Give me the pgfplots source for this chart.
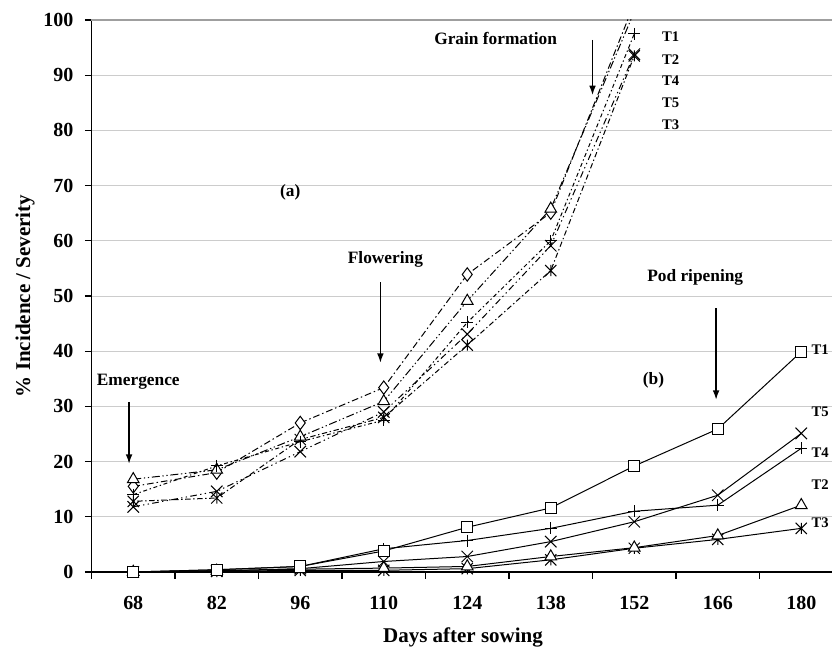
\documentclass[border=0pt]{standalone}
\usepackage{fontspec}
\setmainfont{Liberation Serif}
\usepackage{pgfplots}
\pgfplotsset{compat=1.18}
\usetikzlibrary{arrows.meta}

\pgfdeclareplotmark{exx}{%
 \pgfpathmoveto{\pgfqpoint{-\pgfplotmarksize}{-\pgfplotmarksize}}%
 \pgfpathlineto{\pgfqpoint{\pgfplotmarksize}{\pgfplotmarksize}}%
 \pgfpathmoveto{\pgfqpoint{-\pgfplotmarksize}{\pgfplotmarksize}}%
 \pgfpathlineto{\pgfqpoint{\pgfplotmarksize}{-\pgfplotmarksize}}%
 \pgfusepathqstroke}
\pgfdeclareplotmark{xast}{%
 \pgfpathmoveto{\pgfqpoint{-\pgfplotmarksize}{-\pgfplotmarksize}}%
 \pgfpathlineto{\pgfqpoint{\pgfplotmarksize}{\pgfplotmarksize}}%
 \pgfpathmoveto{\pgfqpoint{-\pgfplotmarksize}{\pgfplotmarksize}}%
 \pgfpathlineto{\pgfqpoint{\pgfplotmarksize}{-\pgfplotmarksize}}%
 \pgfpathmoveto{\pgfqpoint{0pt}{-\pgfplotmarksize}}%
 \pgfpathlineto{\pgfqpoint{0pt}{\pgfplotmarksize}}%
 \pgfusepathqstroke}

\newcommand\tf{\bfseries\fontsize{15}{15}\selectfont}
\newcommand\an{\bfseries\fontsize{13}{13}\selectfont}
\newcommand\tl{\bfseries\fontsize{11}{11}\selectfont}

\begin{document}
\begin{tikzpicture}
\begin{axis}[
 name=ax, scale only axis, width=555.4pt, height=414pt,
 xmin=-0.5, xmax=8.368, ymin=0, ymax=100,
 axis lines*=left, axis line style={line width=1.1pt, -},
 xtick={-0.5,0.5,...,7.5}, xticklabels={},
 extra x ticks={0,...,8},
 extra x tick labels={68,82,96,110,124,138,152,166,180},
 extra x tick style={major tick length=0pt, grid=none},
 xticklabel style={yshift=-15pt},
 yticklabel style={xshift=-5pt},
 ytick={0,10,...,100},
 tick align=outside, major tick length=5pt,
 tick style={black, line width=0.8pt},
 ymajorgrids, grid style={gray!40, line width=0.6pt},
 tick label style={font=\tf},
 /pgf/number format/assume math mode=true,
 xlabel={Days after sowing}, ylabel={\% Incidence / Severity},
 label style={font=\bfseries\fontsize{15.75}{16}\selectfont},
 xlabel style={at={(rel axis cs:0.5017,-0.1286)}, anchor=base},
 ylabel style={at={(rel axis cs:-0.0898,0.5)}, anchor=center},
 clip mode=individual,
]
\draw[gray!75, line width=0.8pt] (rel axis cs:0,1) -- (rel axis cs:1,1);

% ---- Severity (b), solid lines
\addplot[black, line width=0.75pt, mark=xast, mark size=4.2pt,
  mark options={solid, line width=0.75pt}]
  coordinates {(0,0) (1,0.1) (2,0.3) (3,0.3) (4,0.6) (5,2.2) (6,4.3) (7,5.9) (8,7.9)};
\addplot[black, line width=0.75pt, mark=triangle*, mark size=5pt,
  mark options={fill=white, solid, line width=0.75pt}]
  coordinates {(0,0) (1,0.2) (2,0.5) (3,0.7) (4,1.0) (5,2.8) (6,4.4) (7,6.6) (8,12.1)};
\addplot[black, line width=0.75pt, mark=+, mark size=4.5pt,
  mark options={solid, line width=0.75pt}]
  coordinates {(0,0) (1,0.4) (2,1.0) (3,4.2) (4,5.7) (5,7.9) (6,11.0) (7,12.1) (8,22.4)};
\addplot[black, line width=0.75pt, mark=exx, mark size=4.3pt,
  mark options={solid, line width=0.75pt}]
  coordinates {(0,0) (1,0.2) (2,0.6) (3,1.9) (4,2.8) (5,5.5) (6,9.1) (7,13.9) (8,25.1)};
\addplot[black, line width=0.75pt, mark=square*, mark size=4.2pt,
  mark options={fill=white, solid, line width=0.75pt}]
  coordinates {(0,0) (1,0.4) (2,1.0) (3,3.8) (4,8.1) (5,11.6) (6,19.2) (7,25.9) (8,39.9)};

% ---- Incidence (a), dash-dot lines
\addplot[black, line width=0.75pt, dash pattern=on 1pt off 2pt on 4pt off 2pt,
  mark=xast, mark size=4.2pt, mark options={solid, line width=0.75pt}]
  coordinates {(0,12.8) (1,13.4) (2,24.0) (3,28.0) (4,41.1) (5,54.6) (6,93.5)};
\addplot[black, line width=0.75pt, dash pattern=on 5pt off 2.2pt on 1.1pt off 2.2pt,
  mark=diamond*, mark size=5pt, mark options={fill=white, solid, line width=0.75pt}]
  coordinates {(0,15.5) (1,18.0) (2,27.0) (3,33.4) (4,53.9) (5,65.1) (6,103)};
\addplot[black, line width=0.75pt, dash pattern=on 6pt off 2pt on 1pt off 2pt on 1pt off 2pt,
  mark=triangle*, mark size=5pt, mark options={fill=white, solid, line width=0.75pt}]
  coordinates {(0,16.8) (1,18.5) (2,24.5) (3,30.9) (4,49.1) (5,65.8) (6,101.5)};
\addplot[black, line width=0.75pt, dash pattern=on 3pt off 2pt on 1pt off 2pt,
  mark=+, mark size=4.5pt, mark options={solid, line width=0.75pt}]
  coordinates {(0,14.0) (1,19.2) (2,23.6) (3,27.5) (4,45.2) (5,60.0) (6,97.5)};
\addplot[black, line width=0.75pt, dash pattern=on 5pt off 2.5pt on 1pt off 2.5pt on 1pt off 2.5pt,
  mark=exx, mark size=4.3pt, mark options={solid, line width=0.75pt}]
  coordinates {(0,11.8) (1,14.6) (2,21.8) (3,29.0) (4,43.1) (5,59.1) (6,93.8)};

% ---- annotations
\node[font=\an] at (axis cs:4.34,96.6) {Grain formation};
\draw[-{Latex[length=7pt,width=5pt]}, line width=1pt] (axis cs:5.50,96.4) -- (axis cs:5.50,86.4);
\node[font=\an] at (axis cs:3.02,56.7) {Flowering};
\draw[-{Latex[length=7pt,width=5pt]}, line width=1pt] (axis cs:2.96,52.5) -- (axis cs:2.96,37.9);
\node[font=\an] at (axis cs:0.06,34.4) {Emergence};
\draw[-{Latex[length=7pt,width=5pt]}, line width=1pt] (axis cs:-0.05,30.8) -- (axis cs:-0.05,19.6);
\node[font=\an] at (axis cs:6.73,53.3) {Pod ripening};
\draw[-{Latex[length=7pt,width=5pt]}, line width=1pt] (axis cs:6.98,47.8) -- (axis cs:6.98,31.2);
\node[font=\an] at (axis cs:1.88,68.8) {(a)};
\node[font=\an] at (axis cs:6.23,34.8) {(b)};

\node[font=\tl, anchor=west, inner sep=0pt] at (axis cs:6.33,96.9) {T1};
\node[font=\tl, anchor=west, inner sep=0pt] at (axis cs:6.33,92.9) {T2};
\node[font=\tl, anchor=west, inner sep=0pt] at (axis cs:6.33,89.0) {T4};
\node[font=\tl, anchor=west, inner sep=0pt] at (axis cs:6.33,85.0) {T5};
\node[font=\tl, anchor=west, inner sep=0pt] at (axis cs:6.33,81.0) {T3};

\node[font=\tl, anchor=west, inner sep=0pt] at (axis cs:8.12,40.2) {T1};
\node[font=\tl, anchor=west, inner sep=0pt] at (axis cs:8.12,29.0) {T5};
\node[font=\tl, anchor=west, inner sep=0pt] at (axis cs:8.12,21.6) {T4};
\node[font=\tl, anchor=west, inner sep=0pt] at (axis cs:8.12,15.8) {T2};
\node[font=\tl, anchor=west, inner sep=0pt] at (axis cs:8.12,8.9) {T3};

\coordinate (bbsw) at (rel axis cs:-0.12356,-0.13768);
\coordinate (bbne) at (rel axis cs:1,1.03623);
\end{axis}
\pgfresetboundingbox
\path (bbsw) rectangle (bbne);
\end{tikzpicture}
\end{document}
